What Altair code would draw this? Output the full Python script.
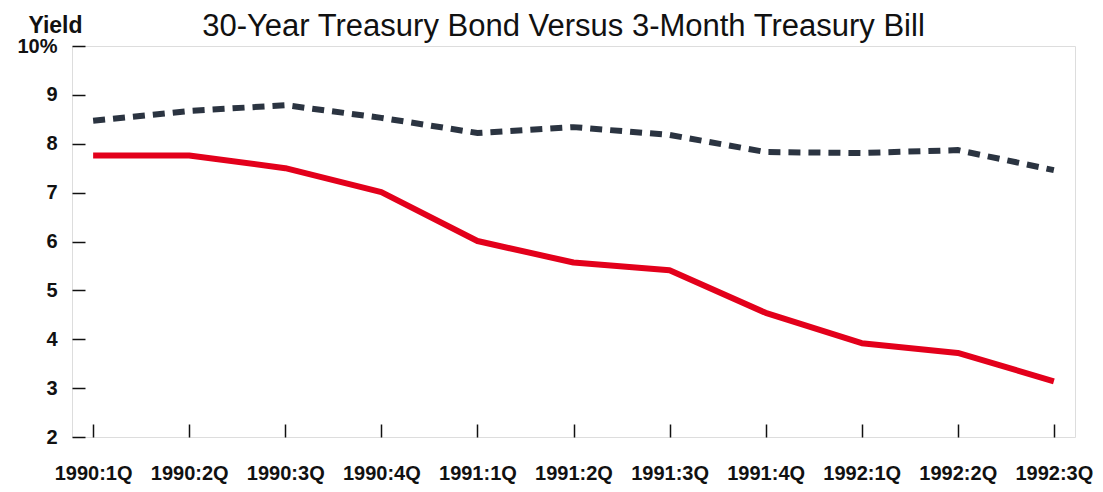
import altair as alt
import pandas as pd

# ---- data ----
quarters = ["1990:1Q", "1990:2Q", "1990:3Q", "1990:4Q", "1991:1Q", "1991:2Q",
            "1991:3Q", "1991:4Q", "1992:1Q", "1992:2Q", "1992:3Q"]
bond_30yr = [8.47, 8.67, 8.79, 8.53, 8.22, 8.34, 8.18, 7.83, 7.81, 7.87, 7.46]
bill_3mo = [7.76, 7.76, 7.50, 7.01, 6.01, 5.57, 5.41, 4.54, 3.92, 3.72, 3.14]
series_names = ["30-Year Treasury Bond", "3-Month Treasury Bill"]
y_ticks = [2, 3, 4, 5, 6, 7, 8, 9, 10]
title_text = "30-Year Treasury Bond Versus 3-Month Treasury Bill"

FONT = "Liberation Sans"

df = pd.DataFrame({
    "quarter": quarters * 2,
    "series": [series_names[0]] * len(quarters) + [series_names[1]] * len(quarters),
    "yield": bond_30yr + bill_3mo,
})

x_enc = alt.X(
    "quarter:N",
    sort=quarters,
    scale=alt.Scale(type="point", padding=0.22),
    axis=alt.Axis(
        title=None, labelAngle=0, labelFont=FONT, labelFontSize=20,
        labelFontWeight="bold", labelColor="#111111", labelPadding=26,
        domain=False, ticks=True, tickSize=13, tickWidth=1.5,
        tickColor="#111111", offset=-13, grid=False,
    ),
)
y_enc = alt.Y(
    "yield:Q",
    scale=alt.Scale(domain=[2, 10], nice=False, zero=False),
    axis=alt.Axis(
        values=y_ticks,
        labelExpr="datum.value == 10 ? '10%' : datum.label",
        title="Yield", titleAngle=0, titleAlign="center", titleX=-30, titleY=-14,
        titleBaseline="alphabetic", titleFont=FONT, titleFontSize=23,
        titleFontWeight="bold", titleColor="#111111",
        labelFont=FONT, labelFontSize=20, labelFontWeight="bold",
        labelColor="#111111", labelPadding=15,
        domain=False, ticks=True, tickSize=13, tickWidth=1.5,
        tickColor="#111111", offset=-13, grid=False,
    ),
)

bond = alt.Chart(df).transform_filter(
    alt.datum.series == series_names[0]
).mark_line(
    color="#2b3441", strokeWidth=6, strokeDash=[12, 8], strokeCap="butt"
).encode(x=x_enc, y=y_enc)

bill = alt.Chart(df).transform_filter(
    alt.datum.series == series_names[1]
).mark_line(
    color="#e3001b", strokeWidth=6, strokeCap="butt", strokeJoin="round"
).encode(x=x_enc, y=y_enc)

chart = alt.layer(bond, bill).properties(
    width=1003,
    height=391,
    padding={"left": 64, "top": 38, "right": 20, "bottom": 47},
    autosize=alt.AutoSizeParams(type="none"),
    title=alt.TitleParams(
        text=title_text, font=FONT, fontSize=31, fontWeight="normal",
        color="#111111", anchor="middle", offset=0, dy=29, dx=-10,
    ),
).configure_view(
    stroke="#111111", strokeWidth=2.5
).configure(background="white")

chart.save("out.html", embed_options={"renderer": "svg", "actions": False})
